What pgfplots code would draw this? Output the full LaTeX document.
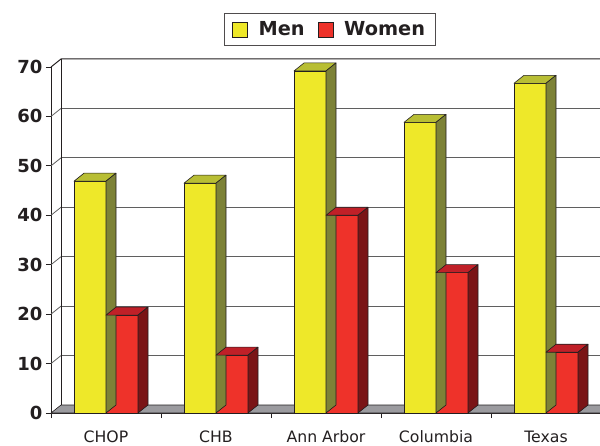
\documentclass[border=0pt]{standalone}
\usepackage{pgfplots}
\pgfplotsset{compat=1.18}
\usepackage{pgfplotstable}
\usepackage{fontspec}
\setmainfont{DejaVu Sans}
\definecolor{menfront}{RGB}{238,232,41}
\definecolor{mentop}{RGB}{184,190,52}
\definecolor{menside}{RGB}{125,130,55}
\definecolor{wfront}{RGB}{238,50,42}
\definecolor{wtop}{RGB}{192,32,40}
\definecolor{wside}{RGB}{122,20,22}
\definecolor{edge}{RGB}{35,31,32}
\definecolor{floorc}{RGB}{155,155,159}
\definecolor{gridc}{RGB}{95,95,95}
\pgfdeclareplotmark{nothing}{}
\pgfplotstableread{
x men women
0 46.9 19.8
1 46.5 11.7
2 69.2 40.0
3 58.8 28.4
4 66.7 12.3
}\data
\begin{document}
\begin{tikzpicture}
\useasboundingbox (0,0) rectangle (600pt,445pt);
\clip (0,0) rectangle (600pt,445pt);
\begin{axis}[
  at={(51pt,32pt)}, anchor=south west,
  x=110pt, y=4.942857pt,
  xmin=-0.5, xmax=4.5, ymin=0, ymax=70,
  clip=false,
  axis x line*=bottom, axis y line*=left,
  axis line style={draw=edge, line width=0.8pt},
  tick align=outside,
  major tick length=5pt,
  tick style={draw=edge, line width=0.8pt},
  ytick={0,10,20,30,40,50,60,70},
  xtick={-0.5,0.5,1.5,2.5,3.5,4.5},
  xticklabels={},
  extra x ticks={0,1,2,3,4},
  extra x tick labels={CHOP,CHB,Ann Arbor,Columbia,Texas},
  extra x tick style={major tick length=0pt, xticklabel style={anchor=base, yshift=-29pt}},
  /pgf/number format/assume math mode=true,
  yticklabel style={font=\fontsize{18}{20}\selectfont\bfseries, text=edge},
  xticklabel style={font=\fontsize{15.7}{18}\selectfont, text=edge},
  legend columns=2,
  legend style={at={(axis description cs:0.5064,1.1084)}, anchor=center,
    draw=edge!80, line width=0.8pt, text=edge,
    font=\fontsize{19.3}{21}\selectfont\bfseries,
    inner xsep=8pt, inner ysep=6.5pt,
    /tikz/every odd column/.append style={column sep=9pt},
    /tikz/every even column/.append style={column sep=11pt}},
  legend image code/.code={\draw[#1,draw=edge,line width=0.6pt] (0pt,-7.5pt) rectangle (15pt,7.5pt);},
]
% floor
\filldraw[fill=floorc, draw=edge, line width=0.6pt] (axis cs:-0.5,0) -- (axis cs:4.5,0) -- ([shift={(10pt,8pt)}]axis cs:4.5,0) -- ([shift={(10pt,8pt)}]axis cs:-0.5,0) -- cycle;
% back wall grid
\pgfplotsinvokeforeach{10,20,30,40,50,60}{
  \draw[gridc, line width=1.2pt] ([shift={(10pt,8pt)}]axis cs:-0.5,#1) -- ([shift={(10pt,8pt)}]axis cs:4.5,#1);
  \draw[gridc, line width=0.8pt] (axis cs:-0.5,#1) -- ([shift={(10pt,8pt)}]axis cs:-0.5,#1);
}
\draw[edge, line width=1pt] (axis cs:-0.5,70) -- ([shift={(10pt,8pt)}]axis cs:-0.5,70) -- ([shift={(10pt,8pt)}]axis cs:4.5,70);
\draw[edge, line width=0.8pt] ([shift={(10pt,8pt)}]axis cs:-0.5,0) -- ([shift={(10pt,8pt)}]axis cs:-0.5,70);
% men
\addplot[ybar, bar width=32pt, bar shift=-16pt, fill=menfront, draw=edge, line width=0.6pt] table[x=x,y=men]{\data};
\addplot[forget plot, scatter, only marks, mark=nothing,
  visualization depends on={\thisrow{men} \as \val},
  scatter/@pre marker code/.code={%
    \pgfmathsetmacro\hb{8-\val*4.942857}%
    \pgfmathsetmacro\hn{-\val*4.942857}%
    \filldraw[fill=mentop, draw=edge, line width=0.6pt, line join=round] (-32pt,0pt) -- (0pt,0pt) -- (10pt,8pt) -- (-22pt,8pt) -- cycle;
    \filldraw[fill=menside, draw=edge, line width=0.6pt, line join=round] (0pt,0pt) -- (10pt,8pt) -- (10pt,\hb pt) -- (0pt,\hn pt) -- cycle;
  },
  scatter/@post marker code/.code={}
] table[x=x,y=men]{\data};
% women
\addplot[ybar, bar width=32pt, bar shift=16pt, fill=wfront, draw=edge, line width=0.6pt] table[x=x,y=women]{\data};
\addplot[forget plot, scatter, only marks, mark=nothing,
  visualization depends on={\thisrow{women} \as \val},
  scatter/@pre marker code/.code={%
    \pgfmathsetmacro\hb{8-\val*4.942857}%
    \pgfmathsetmacro\hn{-\val*4.942857}%
    \filldraw[fill=wtop, draw=edge, line width=0.6pt, line join=round] (0pt,0pt) -- (32pt,0pt) -- (42pt,8pt) -- (10pt,8pt) -- cycle;
    \filldraw[fill=wside, draw=edge, line width=0.6pt, line join=round] (32pt,0pt) -- (42pt,8pt) -- (42pt,\hb pt) -- (32pt,\hn pt) -- cycle;
  },
  scatter/@post marker code/.code={}
] table[x=x,y=women]{\data};
\legend{Men,Women}
\end{axis}
\end{tikzpicture}
\end{document}
